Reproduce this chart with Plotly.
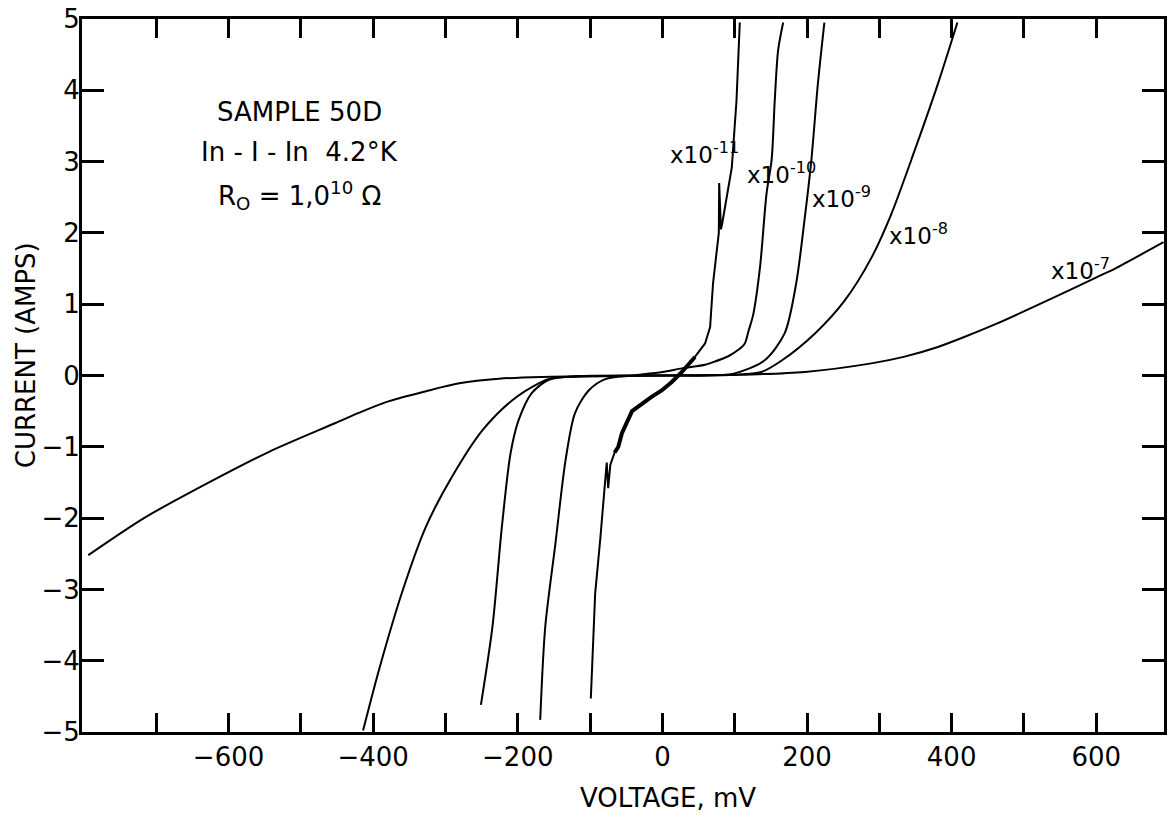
import plotly.graph_objects as go

# ---- data (voltage in mV, current in scaled amps) ----
v_e7 = [-794, -717, -629, -544, -453, -419, -378, -327, -281, -226, -167, -100, 0, 105, 197, 289, 335, 381, 420, 463, 532, 601, 626, 693]
i_e7 = [-2.52, -2.00, -1.51, -1.07, -0.67, -0.52, -0.36, -0.22, -0.11, -0.045, -0.02, -0.01, 0.0, 0.01, 0.05, 0.17, 0.265, 0.40, 0.55, 0.73, 1.05, 1.38, 1.50, 1.87]

v_e8 = [-414, -392, -360, -327, -291, -249, -208, -171, -153, -100, 0, 100, 137, 165, 211, 252, 289, 316, 349, 381, 408]
i_e8 = [-4.98, -4.13, -3.04, -2.12, -1.42, -0.77, -0.35, -0.11, -0.04, -0.01, 0.0, 0.01, 0.05, 0.21, 0.59, 1.05, 1.65, 2.25, 3.16, 4.09, 4.95]

v_e9 = [-251, -235, -222, -210, -199, -181, -157, -120, 0, 60, 100, 141, 169, 185, 197, 206, 215, 224]
i_e9 = [-4.62, -3.52, -2.12, -1.09, -0.63, -0.25, -0.06, -0.01, 0.0, 0.0, 0.03, 0.21, 0.59, 1.29, 2.22, 3.02, 4.09, 4.95]

v_e10 = [-169, -162, -148, -134, -121, -102, -79, -40, 0, 27, 59, 68, 91, 105, 114, 119, 125.5, 135, 144, 151, 155.4, 160, 167]
i_e10 = [-4.83, -3.52, -2.36, -1.19, -0.53, -0.21, -0.05, 0.0, 0.05, 0.10, 0.15, 0.18, 0.27, 0.36, 0.45, 0.62, 0.85, 1.52, 2.55, 3.02, 3.86, 4.56, 4.95]

v_e11 = [-99, -93, -86, -81, -79, -77, -75, -72, -66, -61, -56, -42, -15, -1, 13, 27, 45, 59, 66, 68, 70, 78, 78.5, 81, 83, 96, 102.5, 107]
i_e11 = [-4.53, -3.06, -2.30, -1.75, -1.55, -1.22, -1.58, -1.25, -1.08, -1.00, -0.81, -0.50, -0.30, -0.21, -0.09, 0.05, 0.26, 0.45, 0.68, 1.05, 1.29, 2.00, 2.70, 2.05, 2.15, 2.92, 3.86, 4.95]

x_tickvals = [-700, -600, -500, -400, -300, -200, -100, 0, 100, 200, 300, 400, 500, 600]
x_ticktext = ["", "\u2212600", "", "\u2212400", "", "\u2212200", "", "0", "", "200", "", "400", "", "600"]
y_tickvals = [-5, -4, -3, -2, -1, 0, 1, 2, 3, 4, 5]
y_ticktext = ["\u22125", "\u22124", "\u22123", "\u22122", "\u22121", "0", "1", "2", "3", "4", "5"]

curve_labels = ["x10<sup>-11</sup>", "x10<sup>-10</sup>", "x10<sup>-9</sup>", "x10<sup>-8</sup>", "x10<sup>-7</sup>"]
label_x = [8, 114, 204, 310, 535]
label_y = [3.12, 2.84, 2.50, 1.99, 1.50]

FONT = "DejaVu Sans"

fig = go.Figure()
for v, i, shp in [(v_e7, i_e7, "spline"), (v_e8, i_e8, "spline"), (v_e9, i_e9, "spline"),
                  (v_e10, i_e10, "spline"), (v_e11, i_e11, "linear")]:
    ln = dict(color="black", width=2, shape=shp)
    if shp == "spline":
        ln["smoothing"] = 0.8
    fig.add_trace(go.Scatter(x=v, y=i, mode="lines", line=ln, showlegend=False, hoverinfo="skip"))

# the noisy, thicker-looking stretch of the x10^-11 trace near the origin
noisy = [(v, i) for v, i in zip(v_e11, i_e11) if -66 <= v <= 45]
fig.add_trace(go.Scatter(x=[p[0] for p in noisy], y=[p[1] for p in noisy], mode="lines",
                         line=dict(color="black", width=4), showlegend=False, hoverinfo="skip"))

annotations = []
for txt, lx, ly in zip(curve_labels, label_x, label_y):
    annotations.append(dict(x=lx, y=ly, xref="x", yref="y", text=txt, showarrow=False,
                            xanchor="left", yanchor="middle", font=dict(family=FONT, size=23, color="black")))

for txt, ly in [("SAMPLE 50D", 3.70), ("In - I - In  4.2\u00b0K", 3.14), ("R<sub>O</sub> = 1,0<sup>10</sup> \u03a9", 2.52)]:
    annotations.append(dict(x=-502, y=ly, xref="x", yref="y", text=txt, showarrow=False,
                            xanchor="center", yanchor="middle", font=dict(family=FONT, size=26, color="black")))

annotations.append(dict(x=0.542, y=-0.092, xref="paper", yref="paper", text="VOLTAGE, mV", showarrow=False,
                        xanchor="center", yanchor="middle", font=dict(family=FONT, size=26, color="black")))
annotations.append(dict(x=-0.052, y=0.528, xref="paper", yref="paper", text="CURRENT (AMPS)", showarrow=False,
                        textangle=-90, xanchor="center", yanchor="middle", font=dict(family=FONT, size=26, color="black")))

fig.update_layout(
    width=1171, height=815,
    margin=dict(l=82, r=4, t=18, b=83),
    paper_bgcolor="white", plot_bgcolor="white",
    annotations=annotations,
    showlegend=False,
)
fig.update_xaxes(range=[-802.7, 693.7], showgrid=False, zeroline=False,
                 showline=True, linecolor="black", linewidth=3, mirror="ticks",
                 ticks="inside", ticklen=19, tickwidth=2.5, tickcolor="black",
                 tickmode="array", tickvals=x_tickvals, ticktext=x_ticktext,
                 tickfont=dict(family=FONT, size=26, color="black"))
fig.update_yaxes(range=[-5, 5], showgrid=False, zeroline=False,
                 showline=True, linecolor="black", linewidth=3, mirror="ticks",
                 ticks="inside", ticklen=22, tickwidth=2.5, tickcolor="black",
                 tickmode="array", tickvals=y_tickvals, ticktext=y_ticktext,
                 ticklabelstandoff=-6,
                 tickfont=dict(family=FONT, size=26, color="black"))

fig.write_html("out.html")
